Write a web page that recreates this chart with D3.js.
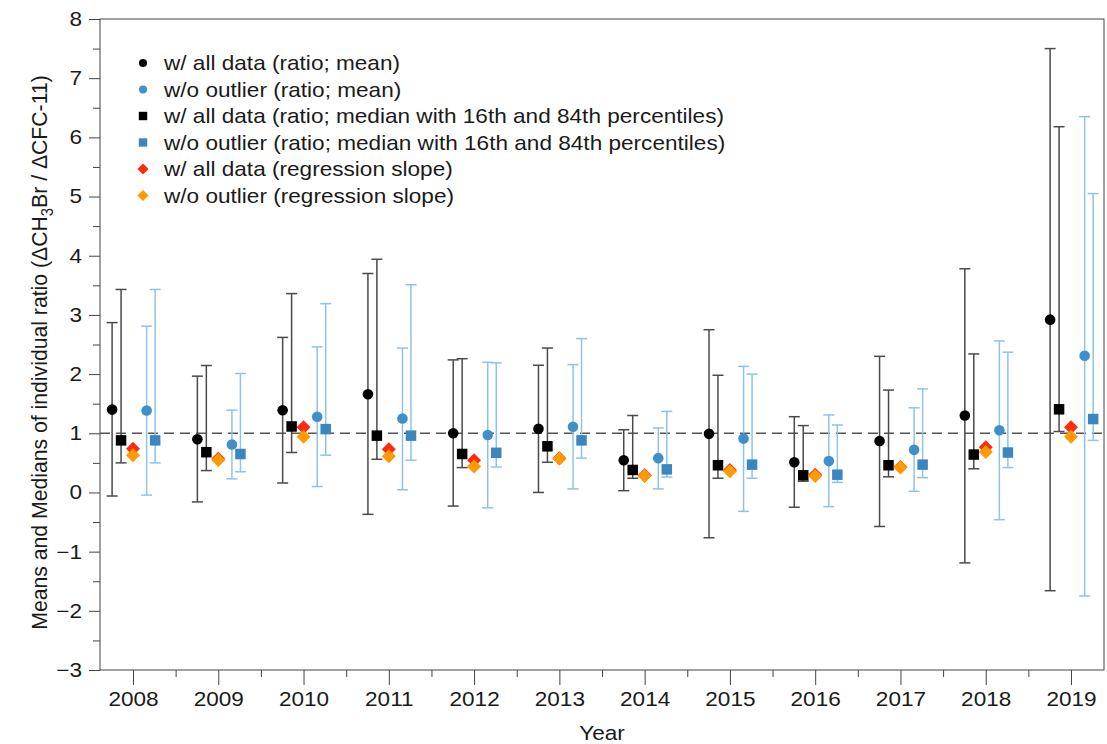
<!DOCTYPE html>
<html>
<head>
<meta charset="utf-8">
<script src="https://cdn.jsdelivr.net/npm/d3@7"></script>
<style>
  html, body { margin: 0; padding: 0; background: #fff; }
  svg { display: block; font-family: "Liberation Sans", Arial, Helvetica, sans-serif; }
</style>
</head>
<body>
<svg id="chart" width="1107" height="744"></svg>
<script>
// ---- data ----
const years = [2008, 2009, 2010, 2011, 2012, 2013, 2014, 2015, 2016, 2017, 2018, 2019];

const meanAll   = [1.40, 0.90, 1.39, 1.66, 1.00, 1.075, 0.545, 0.99, 0.51, 0.87, 1.30, 2.92];
const meanAllLo = [-0.06, -0.16, 0.16, -0.37, -0.23, 0.00, 0.03, -0.765, -0.25, -0.575, -1.19, -1.66];
const meanAllHi = [2.87, 1.965, 2.62, 3.70, 2.24, 2.15, 1.06, 2.75, 1.28, 2.30, 3.78, 7.50];

const meanOut   = [1.385, 0.81, 1.28, 1.25, 0.97, 1.11, 0.58, 0.91, 0.53, 0.72, 1.05, 2.31];
const meanOutLo = [-0.045, 0.23, 0.10, 0.045, -0.26, 0.06, 0.06, -0.32, -0.24, 0.02, -0.46, -1.75];
const meanOutHi = [2.81, 1.39, 2.46, 2.44, 2.20, 2.16, 1.09, 2.13, 1.31, 1.43, 2.56, 6.35];

const medAll   = [0.88, 0.68, 1.115, 0.96, 0.65, 0.78, 0.38, 0.46, 0.29, 0.46, 0.64, 1.405];
const medAllLo = [0.50, 0.37, 0.675, 0.56, 0.42, 0.51, 0.24, 0.24, 0.19, 0.265, 0.40, 1.03];
const medAllHi = [3.43, 2.145, 3.36, 3.94, 2.26, 2.44, 1.30, 1.98, 1.13, 1.73, 2.34, 6.18];

const medOut   = [0.88, 0.65, 1.07, 0.96, 0.67, 0.88, 0.39, 0.47, 0.30, 0.47, 0.675, 1.24];
const medOutLo = [0.50, 0.35, 0.63, 0.545, 0.43, 0.58, 0.26, 0.24, 0.17, 0.25, 0.42, 0.88];
const medOutHi = [3.43, 2.01, 3.19, 3.51, 2.19, 2.60, 1.37, 2.00, 1.14, 1.75, 2.37, 5.05];

const slopeAll = [0.74, 0.57, 1.10, 0.73, 0.545, 0.58, 0.29, 0.38, 0.30, 0.43, 0.765, 1.10];
const slopeOut = [0.63, 0.55, 0.94, 0.61, 0.44, 0.57, 0.28, 0.36, 0.28, 0.42, 0.685, 0.94];

const yTicks = [-3, -2, -1, 0, 1, 2, 3, 4, 5, 6, 7, 8];
const yMinorTicks = [-2.5, -1.5, -0.5, 0.5, 1.5, 2.5, 3.5, 4.5, 5.5, 6.5, 7.5];
const xMinorTicks = [2008.5, 2009.5, 2010.5, 2011.5, 2012.5, 2013.5, 2014.5, 2015.5, 2016.5, 2017.5, 2018.5];

const legendLabels = [
  "w/ all data (ratio; mean)",
  "w/o outlier (ratio; mean)",
  "w/ all data (ratio; median with 16th and 84th percentiles)",
  "w/o outlier (ratio; median with 16th and 84th percentiles)",
  "w/ all data (regression slope)",
  "w/o outlier (regression slope)"
];
const xTitle = "Year";

// ---- layout ----
const svg = d3.select("#chart");
const L = 100, R = 1104, T = 19, B = 670;
const x = d3.scaleLinear().domain([2007.613, 2019.387]).range([L, R]);
const y = d3.scaleLinear().domain([-3, 8]).range([B, T]);

const C = {
  black: "#000000", blackBar: "#4a4a4a",
  blueC: "#3f8fcb", blueS: "#3a87c0", blueBar: "#90c2e6",
  red: "#ff2a12", orange: "#ff9a00"
};
const FS = 20;
const SX = 1.13; // horizontal stretch of glyphs seen in the reference

// axes
const gy = svg.append("g").attr("transform", `translate(${L},0)`)
  .call(d3.axisLeft(y).tickValues(yTicks).tickSize(11).tickPadding(7)
    .tickFormat(d => d < 0 ? "\u2212" + Math.abs(d) : String(d)));
gy.select(".domain").remove();
gy.selectAll("line").attr("stroke", "#444");
gy.selectAll("text").attr("font-size", FS).attr("fill", "#1a1a1a").attr("font-family", null)
  .attr("x", -18 / SX).attr("transform", `scale(${SX},1)`);

const gym = svg.append("g").attr("transform", `translate(${L},0)`)
  .call(d3.axisLeft(y).tickValues(yMinorTicks).tickSize(7).tickFormat(""));
gym.select(".domain").remove();
gym.selectAll("line").attr("stroke", "#444");

const gx = svg.append("g").attr("transform", `translate(0,${B})`)
  .call(d3.axisBottom(x).tickValues(years).tickSize(15).tickPadding(7).tickFormat(d3.format("d")));
gx.select(".domain").remove();
gx.selectAll("line").attr("stroke", "#444");
gx.selectAll("text").attr("font-size", FS).attr("fill", "#1a1a1a").attr("font-family", null)
  .attr("transform", `scale(${SX},1)`);

const gxm = svg.append("g").attr("transform", `translate(0,${B})`)
  .call(d3.axisBottom(x).tickValues(xMinorTicks).tickSize(7).tickFormat(""));
gxm.select(".domain").remove();
gxm.selectAll("line").attr("stroke", "#444");

// frame
svg.append("rect").attr("x", L).attr("y", T).attr("width", R - L).attr("height", B - T)
  .attr("fill", "none").attr("stroke", "#444").attr("stroke-width", 1);

// reference dashed line at 1
svg.append("line").attr("x1", L).attr("x2", R).attr("y1", y(1)).attr("y2", y(1))
  .attr("stroke", "#555").attr("stroke-width", 1.3).attr("stroke-dasharray", "10,6");

// titles
svg.append("text").attr("transform", `translate(${(L + R) / 2},740) scale(${SX},1)`).attr("text-anchor", "middle")
  .attr("font-size", FS).attr("fill", "#1a1a1a").text(xTitle);

const yt = svg.append("text").attr("transform", `translate(47,${(T + B) / 2 + 8}) rotate(-90) scale(1.06,${SX})`)
  .attr("text-anchor", "middle").attr("font-size", FS).attr("fill", "#1a1a1a");
yt.append("tspan").text("Means and Medians of individual ratio (\u0394CH");
yt.append("tspan").attr("font-size", 14).attr("dy", 5).text("3");
yt.append("tspan").attr("dy", -5).text("Br / \u0394CFC-11)");

// ---- marks ----
const offs = { meanAll: -0.245, medAll: -0.14, slope: 0, meanOut: 0.16, medOut: 0.26 };
const plot = svg.append("g");

function errBars(vLo, vHi, off, color) {
  const g = plot.append("g").attr("stroke", color).attr("stroke-width", 1.5).attr("fill", "none");
  years.forEach((yr, i) => {
    const cx = x(yr + off);
    g.append("line").attr("x1", cx).attr("x2", cx).attr("y1", y(vLo[i])).attr("y2", y(vHi[i]));
    g.append("line").attr("x1", cx - 5.5).attr("x2", cx + 5.5).attr("y1", y(vLo[i])).attr("y2", y(vLo[i]));
    g.append("line").attr("x1", cx - 5.5).attr("x2", cx + 5.5).attr("y1", y(vHi[i])).attr("y2", y(vHi[i]));
  });
}
function circles(v, off, color, r) {
  plot.append("g").selectAll("circle").data(years).join("circle")
    .attr("cx", (d) => x(d + off)).attr("cy", (d, i) => y(v[i])).attr("r", r).attr("fill", color);
}
function squares(v, off, color, s) {
  plot.append("g").selectAll("rect").data(years).join("rect")
    .attr("x", (d) => x(d + off) - s / 2).attr("y", (d, i) => y(v[i]) - s / 2)
    .attr("width", s).attr("height", s).attr("fill", color);
}
function diamonds(v, off, color, half) {
  plot.append("g").selectAll("path").data(years).join("path")
    .attr("d", (d, i) => {
      const cx = x(d + off), cy = y(v[i]);
      return `M${cx},${cy - half}L${cx + half},${cy}L${cx},${cy + half}L${cx - half},${cy}Z`;
    }).attr("fill", color);
}

errBars(meanAllLo, meanAllHi, offs.meanAll, C.blackBar);
errBars(medAllLo, medAllHi, offs.medAll, C.blackBar);
errBars(meanOutLo, meanOutHi, offs.meanOut, C.blueBar);
errBars(medOutLo, medOutHi, offs.medOut, C.blueBar);
circles(meanAll, offs.meanAll, C.black, 5.3);
squares(medAll, offs.medAll, C.black, 10.5);
circles(meanOut, offs.meanOut, C.blueC, 5.3);
squares(medOut, offs.medOut, C.blueS, 10.5);
diamonds(slopeAll, offs.slope, C.red, 7);
diamonds(slopeOut, offs.slope, C.orange, 7);

// ---- legend ----
const lg = svg.append("g");
const lx = 143, tx = 164, ly0 = 63, dly = 26.5;
const legendKinds = [
  { t: "c", c: C.black }, { t: "c", c: C.blueC },
  { t: "s", c: C.black }, { t: "s", c: C.blueS },
  { t: "d", c: C.red }, { t: "d", c: C.orange }
];
legendLabels.forEach((lab, i) => {
  const cy = ly0 + i * dly, k = legendKinds[i];
  if (k.t === "c") lg.append("circle").attr("cx", lx).attr("cy", cy).attr("r", 4).attr("fill", k.c);
  else if (k.t === "s") lg.append("rect").attr("x", lx - 4.2).attr("y", cy - 4.2).attr("width", 8.4).attr("height", 8.4).attr("fill", k.c);
  else lg.append("path").attr("d", `M${lx},${cy - 5.6}L${lx + 5.6},${cy}L${lx},${cy + 5.6}L${lx - 5.6},${cy}Z`).attr("fill", k.c);
  lg.append("text").attr("transform", `translate(${tx},${cy}) scale(${SX},1)`).attr("dy", "0.35em")
    .attr("font-size", FS).attr("fill", "#1a1a1a").text(lab);
});
</script>
</body>
</html>
